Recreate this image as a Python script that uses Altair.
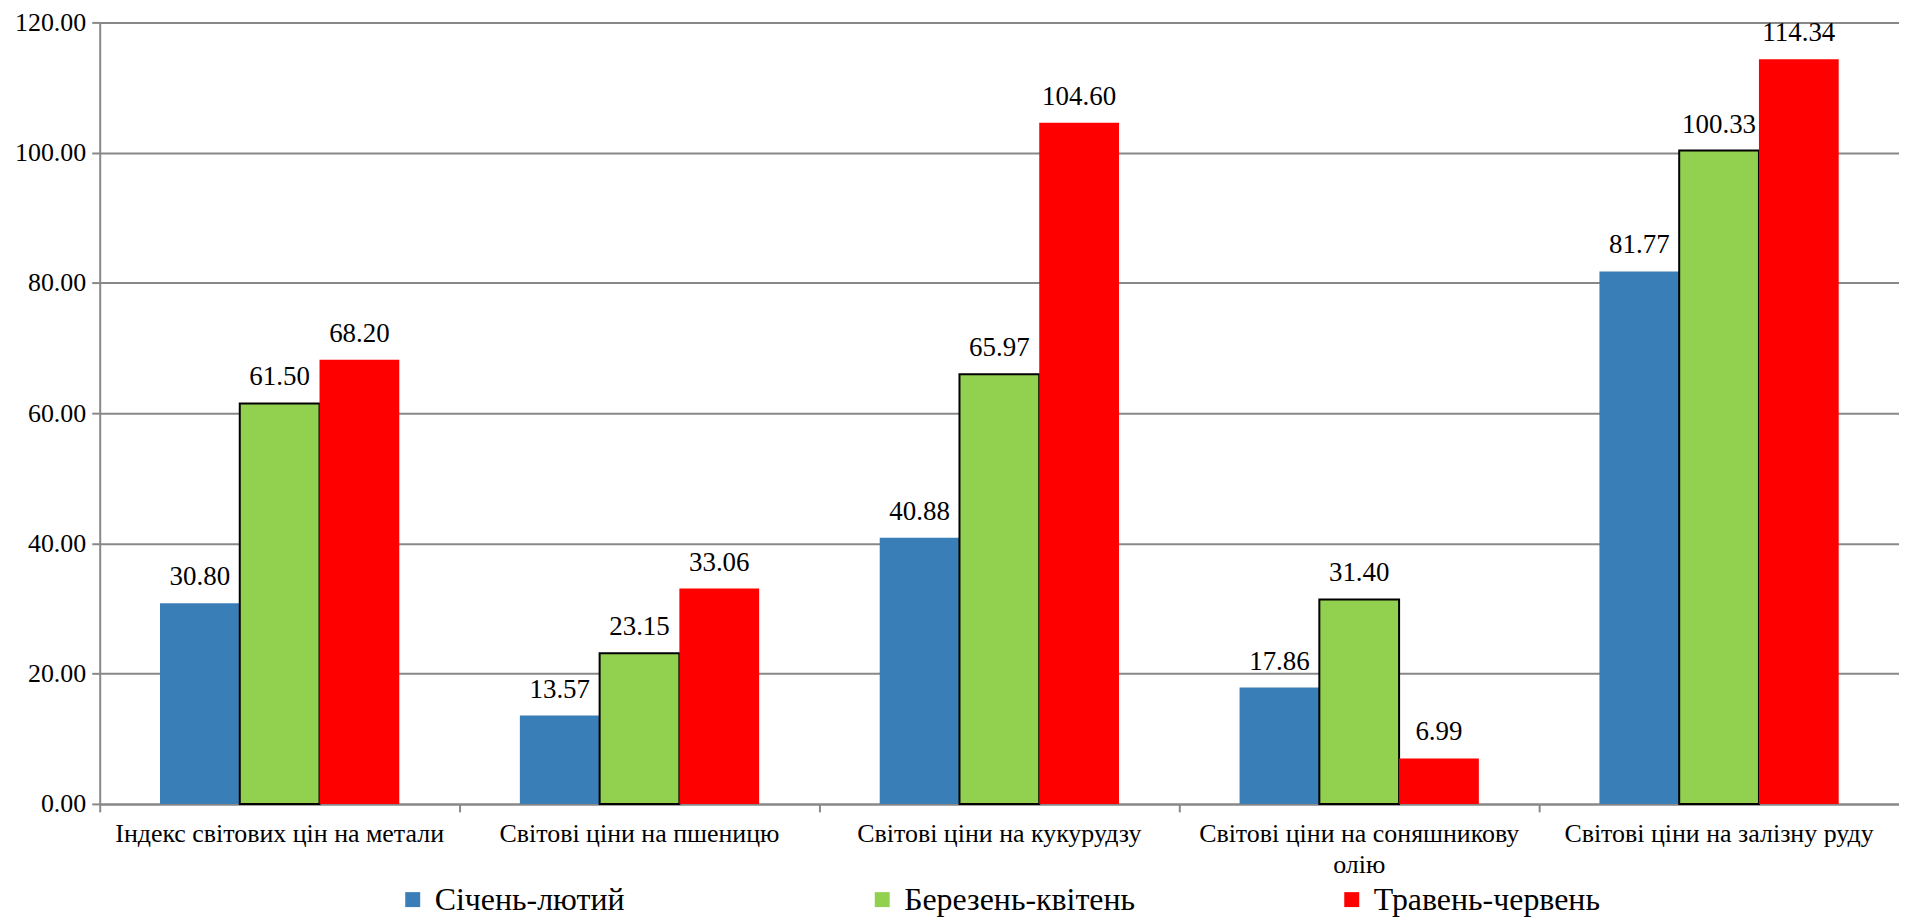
import altair as alt
import pandas as pd

categories = [
    "Індекс світових цін на метали",
    "Світові ціни на пшеницю",
    "Світові ціни на кукурудзу",
    "Світові ціни на соняшникову олію",
    "Світові ціни на залізну руду",
]
series = ["Січень-лютий", "Березень-квітень", "Травень-червень"]
jan_feb = [30.80, 13.57, 40.88, 17.86, 81.77]
mar_apr = [61.50, 23.15, 65.97, 31.40, 100.33]
may_jun = [68.20, 33.06, 104.60, 6.99, 114.34]
colors = ["#3A7EB8", "#92D050", "#FF0000"]
strokes = ["transparent", "#000000", "transparent"]
y_ticks = [0, 20, 40, 60, 80, 100, 120]

rows = []
for vals, s in zip([jan_feb, mar_apr, may_jun], series):
    for c, v in zip(categories, vals):
        rows.append({"category": c, "series": s, "value": v})
df = pd.DataFrame(rows)

FONT = "Liberation Serif"

x_enc = alt.X(
    "category:N",
    sort=categories,
    scale=alt.Scale(paddingInner=0, paddingOuter=0),
    axis=alt.Axis(
        title=None,
        labelAngle=0,
        bandPosition=0,
        labelFont=FONT,
        labelFontSize=26,
        labelColor="#000000",
        labelPadding=9,
        labelLimit=500,
        labelLineHeight=31,
        labelExpr="datum.label == 'Світові ціни на соняшникову олію' ? ['Світові ціни на соняшникову', 'олію'] : datum.label",
        domainColor="#888888",
        domainWidth=2,
        tickColor="#888888",
        tickWidth=2,
        tickSize=8,
        grid=False,
    ),
)
xoff = alt.XOffset("series:N", sort=series, scale=alt.Scale(paddingOuter=0.756, paddingInner=0))
y_enc = alt.Y(
    "value:Q",
    scale=alt.Scale(domain=[0, 120], nice=False),
    axis=alt.Axis(
        title=None,
        values=y_ticks,
        format=".2f",
        labelFont=FONT,
        labelFontSize=26,
        labelColor="#000000",
        labelPadding=6,
        domainColor="#888888",
        domainWidth=2,
        tickColor="#888888",
        tickWidth=2,
        tickSize=8,
        gridColor="#888888",
        gridWidth=2,
    ),
)

bars = alt.Chart(df).mark_bar(strokeWidth=2).encode(
    x=x_enc,
    xOffset=xoff,
    y=y_enc,
    color=alt.Color(
        "series:N",
        sort=series,
        scale=alt.Scale(domain=series, range=colors),
        legend=alt.Legend(
            title=None,
            orient="none",
            legendX=298,
            legendY=864,
            direction="horizontal",
            gridAlign="all",
            columnPadding=201,
            symbolType="square",
            symbolSize=225,
            symbolStrokeWidth=0,
            labelFont=FONT,
            labelFontSize=32,
            labelColor="#000000",
            labelLimit=400,
            labelOffset=6,
        ),
    ),
    stroke=alt.Stroke("series:N", sort=series, scale=alt.Scale(domain=series, range=strokes), legend=None),
)

labels = alt.Chart(df).mark_text(
    baseline="bottom", dy=-12, font=FONT, fontSize=27, color="#000000"
).encode(
    x=alt.X("category:N", sort=categories),
    xOffset=alt.XOffset("series:N", sort=series),
    y=alt.Y("value:Q"),
    text=alt.Text("value:Q", format=".2f"),
)

chart = (
    alt.layer(bars, labels)
    .properties(width=1805, height=784, background="white",
                padding={"left": 6, "top": 0, "right": 0, "bottom": 0})
    .configure_view(stroke=None)
)

chart.save("out.html", embed_options={"renderer": "svg", "actions": False})
